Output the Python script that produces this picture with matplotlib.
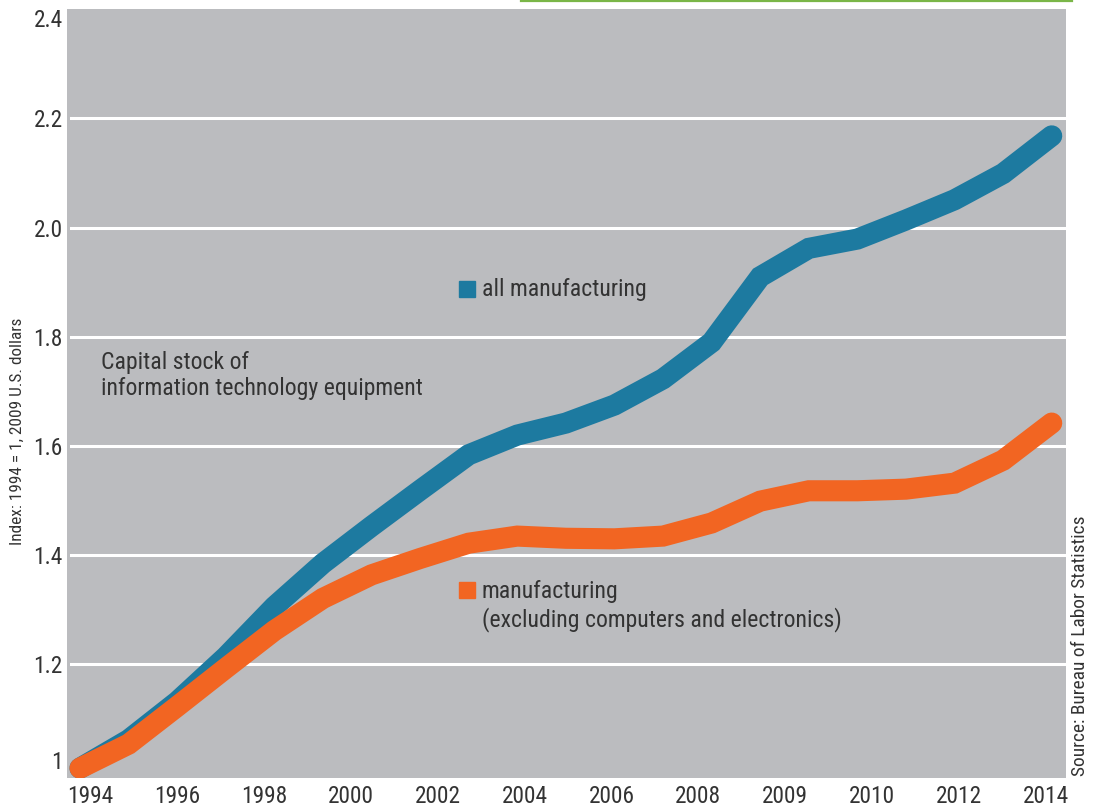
import matplotlib
matplotlib.use("Agg")
import matplotlib.pyplot as plt
from matplotlib import font_manager
from matplotlib.patches import Rectangle
from matplotlib.lines import Line2D
import numpy as np

# data
years = [1994, 1995, 1996, 1997, 1998, 1999, 2000, 2001, 2002, 2003, 2004,
         2005, 2006, 2007, 2008, 2009, 2010, 2011, 2012, 2013, 2014]
all_mfg = [1.01, 1.062, 1.132, 1.214, 1.306, 1.385, 1.453, 1.519, 1.584, 1.62,
           1.642, 1.675, 1.723, 1.79, 1.91, 1.962, 1.979, 2.014, 2.051, 2.099, 2.168]
mfg_ex = [1.01, 1.054, 1.123, 1.193, 1.262, 1.321, 1.364, 1.394, 1.422, 1.435,
          1.431, 1.430, 1.435, 1.459, 1.499, 1.518, 1.518, 1.521, 1.532, 1.574, 1.642]

xtick_labels = ['1994', '1996', '1998', '2000', '2002', '2004', '2006',
                '2008', '2009', '2010', '2012', '2014']
yticks = [1.0, 1.2, 1.4, 1.6, 1.8, 2.0, 2.2, 2.4]
ytick_labels = ['1', '1.2', '1.4', '1.6', '1.8', '2.0', '2.2', '2.4']

blue = '#1d7aa0'
orange = '#f26522'
grey = '#bbbcbf'
txt = '#333333'

# pick a narrow-ish font that is actually installed
fonts = font_manager.fontManager.ttflist
names = {f.name for f in fonts}
family = 'DejaVu Sans'
for cand in ['Liberation Sans Narrow', 'Roboto Condensed', 'Open Sans Condensed',
             'Roboto', 'Lato', 'Open Sans']:
    if cand in names:
        family = cand
        break
plt.rcParams['font.family'] = [family, 'DejaVu Sans']

fig = plt.figure(figsize=(10.96, 8.11), dpi=100)
r = fig.canvas.get_renderer()

# scale the font sizes so text widths match the reference
t = fig.text(0, 0, 'all manufacturing', fontsize=10)
note_size = 10 * 164 / t.get_window_extent(r).width
t.remove()
t = fig.text(0, 0, '1994', fontsize=10)
tick_size = 10 * 46 / t.get_window_extent(r).width
t.remove()
t = fig.text(0, 0, 'Source: Bureau of Labor Statistics', fontsize=10)
src_size = 10 * 260 / t.get_window_extent(r).width
t.remove()
t = fig.text(0, 0, 'Index: 1994 = 1, 2009 U.S. dollars', fontsize=10)
idx_size = 10 * 226 / t.get_window_extent(r).width
t.remove()

ax = fig.add_axes([67/1096, (811-778.3)/811, 999/1096, 769.1/811])
ax.set_facecolor(grey)
for s in ax.spines.values():
    s.set_visible(False)

ax.set_xlim(1993.732, 2014.294)
ax.set_ylim(0.9914, 2.4)

# white gridlines (not at 1 and 2.4)
for v in yticks[1:-1]:
    ax.axhline(v, xmin=0.004, xmax=1, color='white', lw=2.2, zorder=1)

ax.plot(years, all_mfg, color=blue, lw=15.2, solid_capstyle='round',
        solid_joinstyle='miter', zorder=3)
ax.plot(years, mfg_ex, color=orange, lw=15.2, solid_capstyle='round',
        solid_joinstyle='miter', zorder=4)

ax.set_xticks(np.linspace(1994.21, 2013.88, len(xtick_labels)))
ax.set_xticklabels(xtick_labels)
ax.set_yticks(yticks)
ax.set_yticklabels(ytick_labels)
ax.tick_params(axis='both', length=0, labelsize=tick_size, labelcolor=txt)
ax.tick_params(axis='x', pad=5)
ax.tick_params(axis='y', pad=3)
ylabs = ax.get_yticklabels()
ylabs[0].set_verticalalignment('bottom')
ylabs[-1].set_verticalalignment('top')

# legend keys and notes
sq_w, sq_h = 16/999, 16/769.1
ax.add_patch(Rectangle((0.4009 - sq_w/2, 0.6362 - sq_h/2), sq_w, sq_h,
                       transform=ax.transAxes, color=blue, zorder=5))
ax.add_patch(Rectangle((0.4009 - sq_w/2, 0.2442 - sq_h/2), sq_w, sq_h,
                       transform=ax.transAxes, color=orange, zorder=5))
ax.text(0.4154, 0.6349, 'all manufacturing', transform=ax.transAxes,
        fontsize=note_size, color=txt, va='center', ha='left')
ax.text(0.4154, 0.2435, 'manufacturing', transform=ax.transAxes,
        fontsize=note_size, color=txt, va='center', ha='left')
ax.text(0.4154, 0.2058, '(excluding computers and electronics)', transform=ax.transAxes,
        fontsize=note_size, color=txt, va='center', ha='left')
ax.text(0.0337, 0.5401, 'Capital stock of', transform=ax.transAxes,
        fontsize=note_size, color=txt, va='center', ha='left')
ax.text(0.0337, 0.5063, 'information technology equipment', transform=ax.transAxes,
        fontsize=note_size, color=txt, va='center', ha='left')

fig.text(0.016, (811-545)/811, 'Index: 1994 = 1, 2009 U.S. dollars', rotation=90,
         fontsize=idx_size, color=txt, ha='center', va='bottom')
fig.text(1080/1096, (811-776)/811, 'Source: Bureau of Labor Statistics', rotation=90,
         fontsize=src_size, color=txt, ha='center', va='bottom')

fig.add_artist(Line2D([521/1096, 1072/1096], [1 - 1/811, 1 - 1/811],
                      color='#7ab648', lw=1.6))

fig.savefig('out.png', dpi=100, facecolor='white')
